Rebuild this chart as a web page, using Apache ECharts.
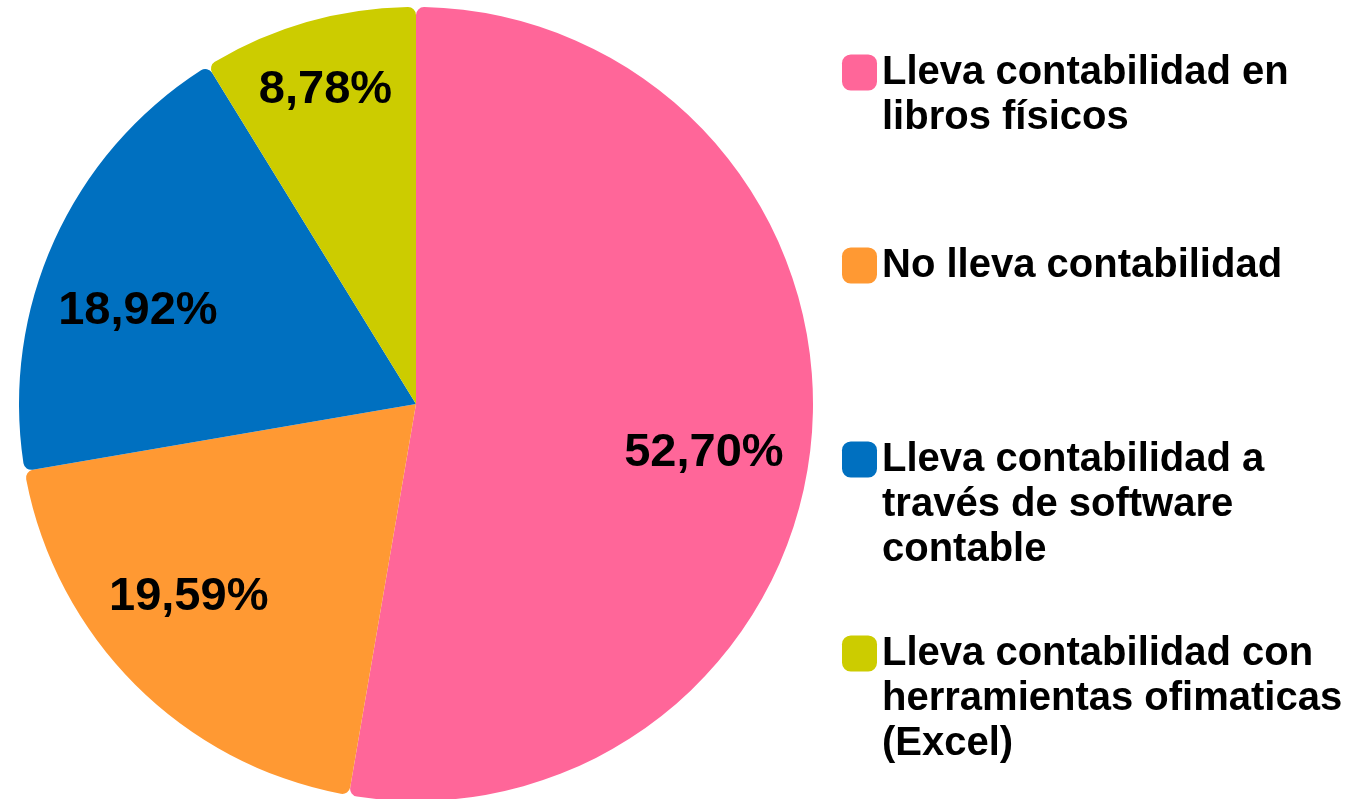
<!DOCTYPE html>
<html>
<head>
    <meta charset="utf-8">
    <title>Contabilidad</title>
    <script src="https://cdn.jsdelivr.net/npm/echarts@6/dist/echarts.min.js"></script>
    <style>
        html, body { margin: 0; padding: 0; background: #fff; }
    </style>
</head>
<body>
    <div id="main" style="width: 1358px;height:799px;"></div>
    <script type="text/javascript">
        // datos
        var categorias = [
            'Lleva contabilidad en libros físicos',
            'No lleva contabilidad',
            'Lleva contabilidad a través de software contable',
            'Lleva contabilidad con herramientas ofimaticas (Excel)'
        ];
        var etiquetasLeyenda = [
            'Lleva contabilidad en\nlibros físicos',
            'No lleva contabilidad',
            'Lleva contabilidad a\ntravés de software\ncontable',
            'Lleva contabilidad con\nherramientas ofimaticas\n(Excel)'
        ];
        var valores = [52.70, 19.59, 18.92, 8.78];
        var colores = ['#FF6699', '#FF9933', '#0070C0', '#CCCC00'];
        // desplazamiento de cada etiqueta respecto al centro del sector
        var desplazamientos = [[-14, 23], [-13, -21], [-2, 32], [-8, -22]];
        var leyendaTop = [5, 243, 347, 541];

        var myChart = echarts.init(document.getElementById('main'));

        var datos = categorias.map(function (c, i) {
            return { name: c, value: valores[i], itemStyle: { color: colores[i] } };
        });
        var datosEtiqueta = categorias.map(function (c, i) {
            return {
                name: c,
                value: valores[i],
                label: { offset: desplazamientos[i] }
            };
        });

        // el icono queda centrado en el bloque de texto: una linea vacia arriba
        // deja la primera linea del texto a la altura del icono
        var leyendas = categorias.map(function (c, i) {
            var lineas = etiquetasLeyenda[i].split('\n').length;
            return {
                left: 842,
                top: leyendaTop[i],
                padding: 0,
                orient: 'vertical',
                selectedMode: false,
                icon: 'roundRect',
                itemWidth: 35,
                itemHeight: 36,
                data: [c],
                formatter: function () {
                    return lineas > 1 ? '{s| }\n' + etiquetasLeyenda[i] : etiquetasLeyenda[i];
                },
                textStyle: {
                    fontFamily: 'Liberation Sans, Arial, sans-serif',
                    fontWeight: 'bold',
                    fontSize: 40,
                    lineHeight: 45,
                    color: '#000',
                    rich: {
                        s: { fontSize: 4, lineHeight: (lineas - 1) * 45 }
                    }
                }
            };
        });

        myChart.setOption({
            animation: false,
            legend: leyendas,
            series: [
                {
                    type: 'pie',
                    center: [416, 404],
                    radius: [0, 397],
                    startAngle: 90,
                    clockwise: true,
                    silent: true,
                    itemStyle: { borderRadius: 8, borderWidth: 0 },
                    label: { show: false },
                    labelLine: { show: false },
                    data: datos
                },
                {
                    // serie transparente solo para las etiquetas
                    type: 'pie',
                    center: [416, 404],
                    radius: [205, 395],
                    startAngle: 90,
                    clockwise: true,
                    silent: true,
                    itemStyle: { color: 'rgba(0,0,0,0)', borderWidth: 0 },
                    label: {
                        show: true,
                        position: 'inside',
                        fontFamily: 'Liberation Sans, Arial, sans-serif',
                        fontWeight: 'bold',
                        fontSize: 47,
                        color: '#000',
                        formatter: function (p) {
                            return p.value.toFixed(2).replace('.', ',') + '%';
                        }
                    },
                    labelLine: { show: false },
                    data: datosEtiqueta
                }
            ]
        });
    </script>
</body>
</html>
